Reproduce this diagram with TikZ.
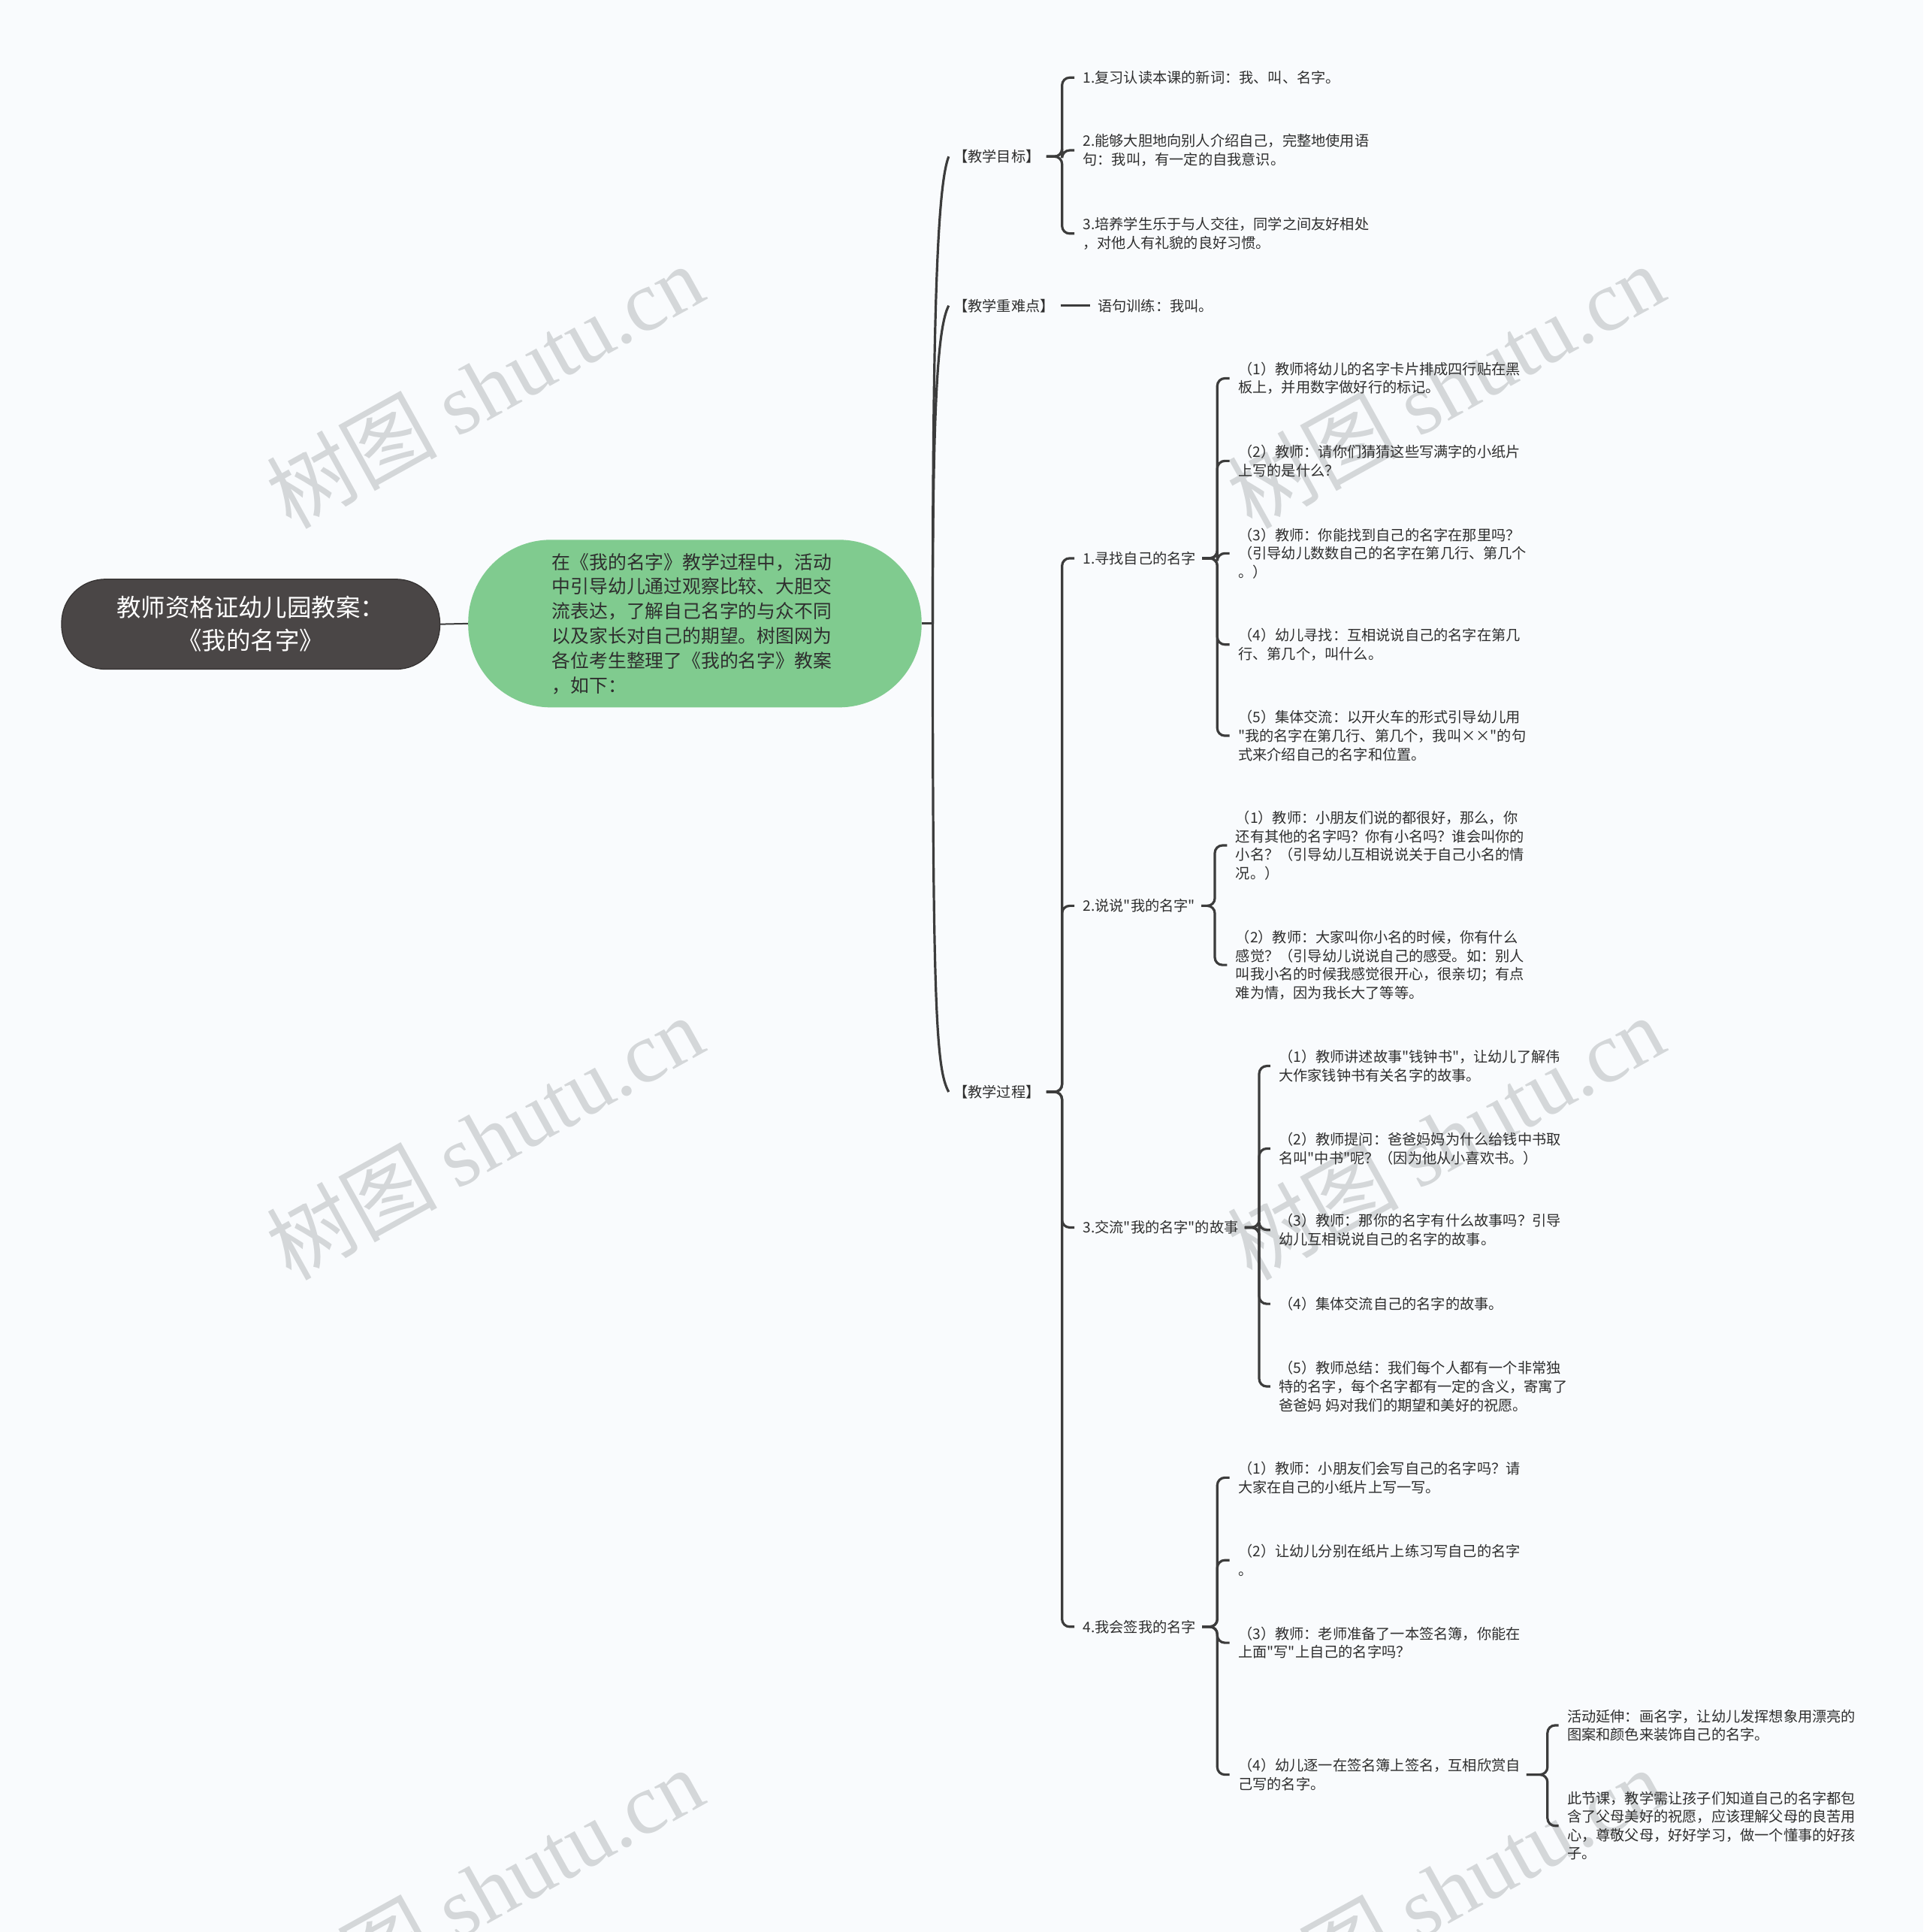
\documentclass[tikz,border=0pt]{standalone}
\usepackage{fontspec}
\newfontfamily\cjk{Noto Sans CJK SC}
\newfontfamily\wmserif{Liberation Serif}
\usetikzlibrary{calc}
\definecolor{bgc}{HTML}{F9FBFD}
\definecolor{rootc}{HTML}{4A4646}
\definecolor{rootb}{HTML}{333030}
\definecolor{greenc}{HTML}{80CB8F}
\definecolor{linec}{HTML}{3C3C3C}
\definecolor{txtc}{HTML}{2E2E2E}
\definecolor{wmc}{HTML}{D4D7D9}
\tikzset{
  leaf/.style={anchor=west, inner sep=0pt, outer sep=0pt, align=left, text=txtc, font=\cjk\fontsize{9.6}{12.3}\selectfont},
  conn/.style={draw=linec, line width=1.6pt, rounded corners=5pt},
  spine/.style={draw=linec, line width=1.6pt},
  wmark/.style={text=wmc, rotate=29, inner sep=0pt, font=\cjk\fontsize{57}{57}\selectfont},
}
\newcommand\mmbranch[2]{\draw[conn] ($(#1.east)+(5,0)$) -- ($(#1.east -| #2.west)+(-17,0)$) |- ($(#2.west)+(-7,0)$);}
\newcommand\mmbranchb[2]{\draw[conn] ($(#1.east)+(5,0)$) -- ($(#1.east -| #2.west)+(-16,0)$) |- ($(#2.west)+(-7,0)$);}
\begin{document}
\begin{tikzpicture}[x=0.82pt,y=-0.82pt]
\fill[bgc] (0,0) rectangle (1561,1567.7);
\useasboundingbox (0,0) rectangle (1561,1567.7);

% watermarks
\node[wmark] (wm1) at (393,313) {树图 {\wmserif shutu.cn}};
\node[wmark] (wm2) at (1173,313) {树图 {\wmserif shutu.cn}};
\node[wmark] (wm3) at (393,923) {树图 {\wmserif shutu.cn}};
\node[wmark] (wm4) at (1173,923) {树图 {\wmserif shutu.cn}};
\node[wmark] (wm5) at (393,1533) {树图 {\wmserif shutu.cn}};
\node[wmark] (wm6) at (1173,1533) {树图 {\wmserif shutu.cn}};

% root and summary
\node[fill=rootc, draw=rootb, line width=0.6pt, rounded corners=29pt, minimum width=307*0.82pt, minimum height=73*0.82pt, inner sep=0pt, text=white, align=center, font=\cjk\fontsize{16.2}{22}\selectfont] (root) at (203.5,506.5) {教师资格证幼儿园教案：\\《我的名字》};
\node[fill=greenc, rounded corners=55pt, minimum width=368*0.82pt, minimum height=136*0.82pt, inner sep=0pt, text=txtc, align=left, font=\cjk\fontsize{12.4}{16.4}\selectfont] (green) at (564,506) {\hspace*{-4pt}在《我的名字》教学过程中，活动\\\hspace*{-4pt}中引导幼儿通过观察比较、大胆交\\\hspace*{-4pt}流表达，了解自己名字的与众不同\\\hspace*{-4pt}以及家长对自己的期望。树图网为\\\hspace*{-4pt}各位考生整理了《我的名字》教案\\\hspace*{-4pt}，如下：};
\draw[draw=linec, line width=1pt] (root.east) -- (green.west);
\coordinate (sp) at (757,506);
\draw[spine] (green.east) -- (sp);

% first level
\node[leaf] (mb) at (774,127) {【教学目标】};
\node[leaf] (zd) at (774,248) {【教学重难点】};
\node[leaf] (gc) at (774,886) {【教学过程】};
\draw[spine] (sp) .. controls (757,250) and (761,150) .. ($(mb.west)+(-4,0)$);
\draw[spine] (sp) .. controls (757,330) and (761,265) .. ($(zd.west)+(-4,0)$);
\draw[spine] (sp) .. controls (757,820) and (760,868) .. ($(gc.west)+(-4,0)$);

% goals
\node[leaf] (g1) at (879,63) {1.复习认读本课的新词：我、叫、名字。};
\node[leaf] (g2) at (879,122) {2.能够大胆地向别人介绍自己，完整地使用语\\句：我叫，有一定的自我意识。};
\node[leaf] (g3) at (879,189.5) {3.培养学生乐于与人交往，同学之间友好相处\\，对他人有礼貌的良好习惯。};
\mmbranch{mb}{g1}
\mmbranch{mb}{g2}
\mmbranch{mb}{g3}

% key point
\node[leaf] (zdc) at (891,248) {语句训练：我叫。};
\draw[conn] ($(zd.east)+(5,0)$) -- ($(zdc.west)+(-6,0)$);

% process
\node[leaf] (p1) at (879,453) {1.寻找自己的名字};
\node[leaf] (p2) at (879,735) {2.说说"我的名字"};
\node[leaf] (p3) at (879,996) {3.交流"我的名字"的故事};
\node[leaf] (p4) at (879,1320) {4.我会签我的名字};
\mmbranch{gc}{p1}
\mmbranch{gc}{p2}
\mmbranch{gc}{p3}
\mmbranch{gc}{p4}

% 1
\node[leaf] (a1) at (1005,307) {（1）教师将幼儿的名字卡片排成四行贴在黑\\板上，并用数字做好行的标记。};
\node[leaf] (a2) at (1005,374) {（2）教师：请你们猜猜这些写满字的小纸片\\上写的是什么？};
\node[leaf] (a3) at (1005,449) {（3）教师：你能找到自己的名字在那里吗？\\（引导幼儿数数自己的名字在第几行、第几个\\。）};
\node[leaf] (a4) at (1005,523) {（4）幼儿寻找：互相说说自己的名字在第几\\行、第几个，叫什么。};
\node[leaf] (a5) at (1005,597) {（5）集体交流：以开火车的形式引导幼儿用\\"我的名字在第几行、第几个，我叫××"的句\\式来介绍自己的名字和位置。};
\mmbranch{p1}{a1}
\mmbranch{p1}{a2}
\mmbranch{p1}{a3}
\mmbranch{p1}{a4}
\mmbranch{p1}{a5}

% 2
\node[leaf] (b1) at (1003,686) {（1）教师：小朋友们说的都很好，那么，你\\还有其他的名字吗？你有小名吗？谁会叫你的\\小名？（引导幼儿互相说说关于自己小名的情\\况。）};
\node[leaf] (b2) at (1003,783) {（2）教师：大家叫你小名的时候，你有什么\\感觉？（引导幼儿说说自己的感受。如：别人\\叫我小名的时候我感觉很开心，很亲切；有点\\难为情，因为我长大了等等。};
\mmbranch{p2}{b1}
\mmbranch{p2}{b2}

% 3
\node[leaf] (c1) at (1038,865) {（1）教师讲述故事"钱钟书"，让幼儿了解伟\\大作家钱钟书有关名字的故事。};
\node[leaf] (c2) at (1038,932) {（2）教师提问：爸爸妈妈为什么给钱中书取\\名叫"中书"呢？（因为他从小喜欢书。）};
\node[leaf] (c3) at (1038,998) {（3）教师：那你的名字有什么故事吗？引导\\幼儿互相说说自己的名字的故事。};
\node[leaf] (c4) at (1038,1058) {（4）集体交流自己的名字的故事。};
\node[leaf] (c5) at (1038,1125) {（5）教师总结：我们每个人都有一个非常独\\特的名字，每个名字都有一定的含义，寄寓了\\爸爸妈 妈对我们的期望和美好的祝愿。};
\mmbranchb{p3}{c1}
\mmbranchb{p3}{c2}
\mmbranchb{p3}{c3}
\mmbranchb{p3}{c4}
\mmbranchb{p3}{c5}

% 4
\node[leaf] (d1) at (1005,1199) {（1）教师：小朋友们会写自己的名字吗？请\\大家在自己的小纸片上写一写。};
\node[leaf] (d2) at (1005,1266) {（2）让幼儿分别在纸片上练习写自己的名字\\。};
\node[leaf] (d3) at (1005,1333) {（3）教师：老师准备了一本签名簿，你能在\\上面"写"上自己的名字吗？};
\node[leaf] (d4) at (1005,1440) {（4）幼儿逐一在签名簿上签名，互相欣赏自\\己写的名字。};
\mmbranch{p4}{d1}
\mmbranch{p4}{d2}
\mmbranch{p4}{d3}
\mmbranch{p4}{d4}

% 4-(4)
\node[leaf] (e1) at (1272,1400) {活动延伸：画名字，让幼儿发挥想象用漂亮的\\图案和颜色来装饰自己的名字。};
\node[leaf] (e2) at (1272,1481.5) {此节课，教学需让孩子们知道自己的名字都包\\含了父母美好的祝愿，应该理解父母的良苦用\\心，尊敬父母，好好学习，做一个懂事的好孩\\子。};
\mmbranchb{d4}{e1}
\mmbranchb{d4}{e2}
\end{tikzpicture}
\end{document}
